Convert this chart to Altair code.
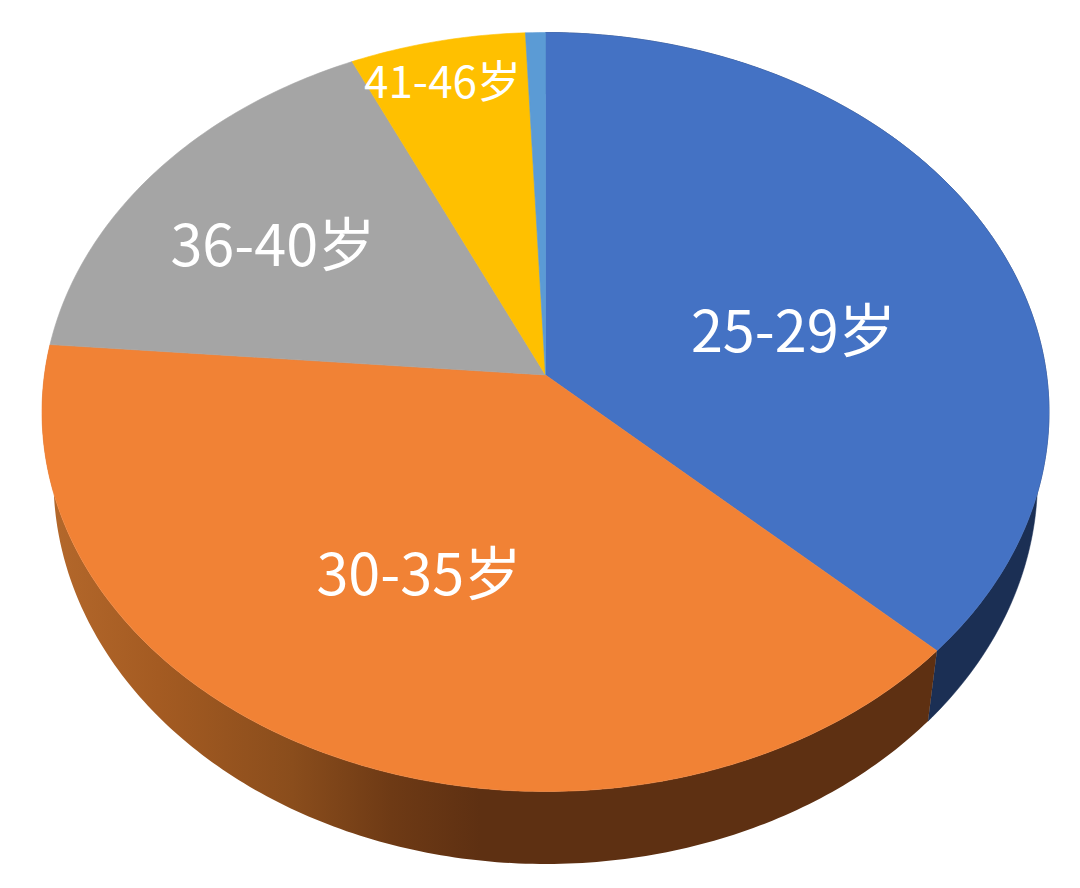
import math
import altair as alt

# Data
categories = ["25-29岁", "30-35岁", "36-40岁", "41-46岁", "其他"]
shares = [37.0, 39.3, 16.8, 6.2, 0.7]
colors = ["#4472C4", "#F18235", "#A5A5A5", "#FFC000", "#5B9BD5"]
labelled = ["25-29岁", "30-35岁", "36-40岁", "41-46岁"]

# Perspective layout of the tilted disc (image pixels)
TOP = dict(cx=545.5, cy=412.0, a=503.5, b=379.5)
BOTTOM = dict(cx=545.5, cy=479.0, a=492.0, b=385.0)
APEX_SHIFT = 0.0975  # apex is above the ellipse centre (perspective)
LABEL_LAYOUT = {
    "25-29岁": (793.5, 335, 57.5),
    "30-35岁": (419, 578, 57.5),
    "36-40岁": (273, 249, 57.5),
    "41-46岁": (442.5, 85, 44),
}
WIDTH, HEIGHT = 1064, 872
MARGIN = 8


def norm(theta):
    """Share angle (clockwise from 12 o'clock) -> point on the unit circle seen in perspective."""
    x, y = math.sin(theta), math.cos(theta)
    k = APEX_SHIFT
    d = 1 + k * y
    return x * math.sqrt(1 - k * k) / d, (y + k) / d


def on(e, theta):
    x, y = norm(theta)
    return [e["cx"] + e["a"] * x, e["cy"] - e["b"] * y]


def arc(e, t0, t1):
    n = max(2, int(abs(t1 - t0) / math.radians(0.75)))
    return [on(e, t0 + (t1 - t0) * i / n) for i in range(n + 1)]


def feature(ring, name):
    return {
        "type": "Feature",
        "properties": {"name": name},
        "geometry": {"type": "Polygon", "coordinates": [ring + [ring[0]]]},
    }


total = sum(shares)
angles = [0.0]
for s in shares:
    angles.append(angles[-1] + s / total * 2 * math.pi)

apex = [TOP["cx"], TOP["cy"] - TOP["b"] * APEX_SHIFT]
faces = [
    feature([apex] + arc(TOP, angles[i], angles[i + 1]), categories[i])
    for i in range(len(categories))
]


def wall(i):
    return feature(
        arc(TOP, angles[i], angles[i + 1]) + arc(BOTTOM, angles[i + 1], angles[i]),
        categories[i] + " side",
    )


projection = dict(type="identity", scale=1, translate=[-MARGIN, -MARGIN])

blue_wall = alt.Chart(alt.Data(values=[wall(0)])).mark_geoshape(
    fill="#1B2F54", stroke="#1B2F54", strokeWidth=0.5
).project(**projection)

orange_gradient = alt.LinearGradient(
    gradient="linear",
    x1=0, x2=1, y1=0, y2=0,
    stops=[
        alt.GradientStop(color="#B5692C", offset=0.0),
        alt.GradientStop(color="#A45B22", offset=0.13),
        alt.GradientStop(color="#8A4D1C", offset=0.28),
        alt.GradientStop(color="#6E3A15", offset=0.39),
        alt.GradientStop(color="#5E3012", offset=0.49),
        alt.GradientStop(color="#5E3012", offset=1.0),
    ],
)
orange_wall = alt.Chart(alt.Data(values=[wall(1)])).mark_geoshape(
    fill=orange_gradient
).project(**projection)

top = alt.Chart(alt.Data(values=faces)).mark_geoshape(strokeWidth=0.6).encode(
    color=alt.Color(
        "properties.name:N",
        scale=alt.Scale(domain=categories, range=colors),
        legend=None,
    ),
    stroke=alt.Stroke(
        "properties.name:N",
        scale=alt.Scale(domain=categories, range=colors),
        legend=None,
    ),
).project(**projection)

texts = [
    alt.Chart(alt.Data(values=[{"label": name}])).mark_text(
        font="Noto Sans CJK SC",
        fontSize=LABEL_LAYOUT[name][2],
        color="white",
        align="center",
        baseline="middle",
    ).encode(
        x=alt.value(LABEL_LAYOUT[name][0] - MARGIN),
        y=alt.value(LABEL_LAYOUT[name][1] - MARGIN),
        text="label:N",
    )
    for name in labelled
]

chart = alt.layer(blue_wall, orange_wall, top, *texts).properties(
    width=WIDTH, height=HEIGHT, padding=0, background="white"
).configure_view(stroke=None)

chart.save("out.html", embed_options={"renderer": "svg", "actions": False})
